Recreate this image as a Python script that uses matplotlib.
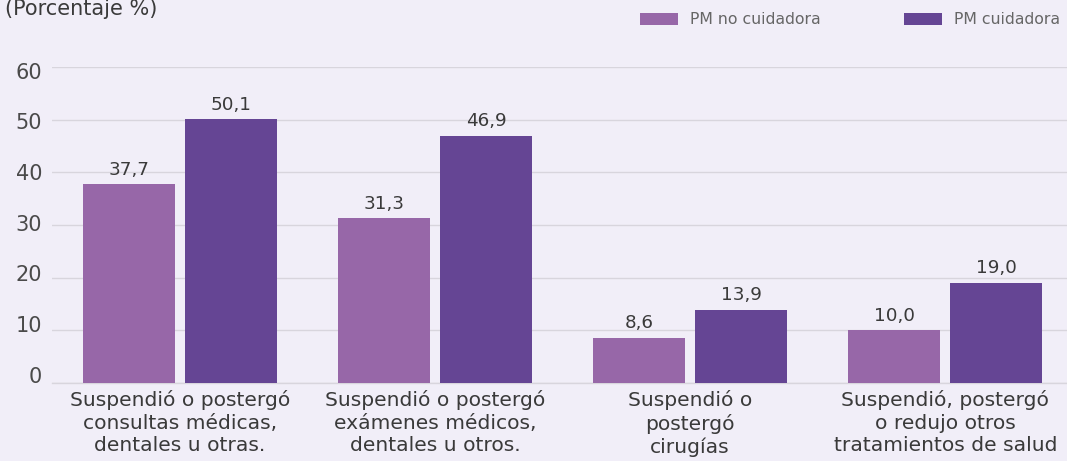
import matplotlib
matplotlib.use("Agg")
import matplotlib.pyplot as plt
import numpy as np
from matplotlib.patches import Patch
from matplotlib.transforms import ScaledTranslation

categories = [
    "Suspendió o postergó\nconsultas médicas,\ndentales u otras.",
    "Suspendió o postergó\nexámenes médicos,\ndentales u otros.",
    "Suspendió o\npostergó\ncirugías",
    "Suspendió, postergó\no redujo otros\ntratamientos de salud",
]
no_cuidadora = [37.7, 31.3, 8.6, 10.0]
cuidadora = [50.1, 46.9, 13.9, 19.0]
series_names = ["PM no cuidadora", "PM cuidadora"]
yticks = [0, 10, 20, 30, 40, 50, 60]

bg = "#F1EEF8"
c1 = "#9767A8"
c2 = "#654594"
txt = "#3a3a3a"

plt.rcParams['font.family'] = ['DejaVu Sans']

W, H = 1067, 461
fig = plt.figure(figsize=(W / 100, H / 100), dpi=100, facecolor=bg)
left, right = 52, 1073
bottom, top = 383, 67
ax = fig.add_axes([left / W, (H - bottom) / H, (right - left) / W, (bottom - top) / H])
ax.set_facecolor(bg)

x = np.arange(len(categories))
bw = 0.36
off = 0.2
b1 = ax.bar(x - off, no_cuidadora, bw, color=c1, zorder=3)
b2 = ax.bar(x + off, cuidadora, bw, color=c2, zorder=3)

def fmt(v):
    return f"{v:.1f}".replace(".", ",")

for bars, vals in ((b1, no_cuidadora), (b2, cuidadora)):
    for r, v in zip(bars, vals):
        ax.annotate(fmt(v), (r.get_x() + r.get_width() / 2, v),
                    xytext=(0, 4), textcoords="offset points",
                    ha="center", va="bottom", fontsize=13.2, color=txt)

ax.set_xlim(-0.5, len(categories) - 0.5)
ax.set_ylim(0, 60)
ax.set_yticks(yticks)
ax.set_yticklabels([str(t) for t in yticks])
ax.set_xticks(x)
ax.set_xticklabels(categories, fontsize=14.6, color=txt, linespacing=1.25)
ax.tick_params(axis="y", length=0, pad=7, labelsize=15, labelcolor="#4a4a4a")
ax.tick_params(axis="x", length=0, pad=5)
ax.grid(axis="y", color="#d8d5dd", linewidth=1, zorder=0)
for s in ["top", "right", "left"]:
    ax.spines[s].set_visible(False)
ax.spines["bottom"].set_color("#d8d5dd")
ax.spines["bottom"].set_linewidth(1)

# the reference's y labels drift slightly from their gridlines (pixels, + = up)
label_shift_px = [7.7, 6.0, 5.0, 2.0, 0.6, -1.0, -4.4]
for tick, dy in zip(ax.yaxis.get_major_ticks(), label_shift_px):
    tick.label1.set_transform(tick.label1.get_transform() +
                              ScaledTranslation(0, dy / 100, fig.dpi_scale_trans))

handles = [Patch(facecolor=c1, edgecolor="none"), Patch(facecolor=c2, edgecolor="none")]
fig.legend(handles, series_names, loc="upper left", bbox_to_anchor=(640 / W, 1 - 12 / H),
           ncol=2, frameon=False, fontsize=11.3, labelcolor="#666666",
           handlelength=2.4, handleheight=0.8, handletextpad=0.8,
           columnspacing=5.3, borderpad=0, borderaxespad=0)

fig.text(5 / W, 1 - 15 / H, "(Porcentaje %)", fontsize=15, color=txt,
         ha="left", va="baseline")

fig.savefig("out.png", dpi=100, facecolor=bg)
